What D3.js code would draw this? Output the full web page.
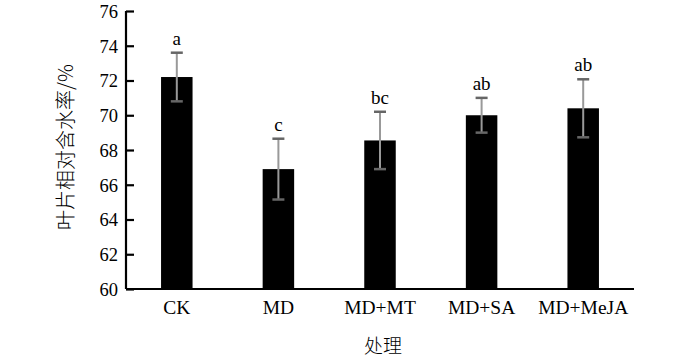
<!DOCTYPE html>
<html>
<head>
<meta charset="utf-8">
<script src="https://cdn.jsdelivr.net/npm/d3@7"></script>
<style>
  body { margin: 0; background: #fff; }
  .serif { font-family: "Liberation Serif", "DejaVu Serif", serif; }
  .cjk { font-family: "Noto Sans CJK SC", sans-serif; }
</style>
</head>
<body>
<svg id="chart" width="700" height="360"></svg>
<script>
var treatments = ["CK", "MD", "MD+MT", "MD+SA", "MD+MeJA"];
var means = [72.2, 66.9, 68.55, 70.0, 70.4];
var errors = [1.4, 1.75, 1.65, 1.0, 1.67];
var letters = ["a", "c", "bc", "ab", "ab"];
var yTicks = [60, 62, 64, 66, 68, 70, 72, 74, 76];

var svg = d3.select("#chart");
var plotLeft = 126, plotRight = 634, plotTop = 11, plotBottom = 289;

var x = d3.scaleBand()
    .domain(treatments)
    .range([plotLeft, plotRight])
    .paddingInner(0.69)
    .paddingOuter(0.345);

var y = d3.scaleLinear().domain([60, 76]).range([plotBottom, plotTop]);

var data = treatments.map(function(t, i) {
    return { name: t, mean: means[i], se: errors[i], letter: letters[i] };
});

// bars
svg.selectAll("rect.bar")
    .data(data)
    .enter()
    .append("rect")
    .attr("class", "bar")
    .attr("x", function(d){ return x(d.name) })
    .attr("y", function(d){ return y(d.mean) })
    .attr("width", x.bandwidth())
    .attr("height", function(d){ return y(60) - y(d.mean) })
    .attr("fill", "#000");

// error bars
var cx = function(d){ return x(d.name) + x.bandwidth() / 2 };
svg.selectAll("line.stem")
    .data(data)
    .enter()
    .append("line")
    .attr("x1", cx).attr("x2", cx)
    .attr("y1", function(d){ return y(d.mean + d.se) })
    .attr("y2", function(d){ return y(d.mean - d.se) })
    .attr("stroke", "#999")
    .attr("stroke-width", 2);

[1, -1].forEach(function(s) {
    svg.selectAll("line.cap" + s)
        .data(data)
        .enter()
        .append("line")
        .attr("x1", function(d){ return cx(d) - 6 })
        .attr("x2", function(d){ return cx(d) + 6 })
        .attr("y1", function(d){ return y(d.mean + s * d.se) })
        .attr("y2", function(d){ return y(d.mean + s * d.se) })
        .attr("stroke", "#666")
        .attr("stroke-width", 2.5);
});

// significance letters
svg.selectAll("text.sig")
    .data(data)
    .enter()
    .append("text")
    .attr("class", "serif")
    .attr("x", cx)
    .attr("y", function(d){ return y(d.mean + d.se) - 8 })
    .attr("text-anchor", "middle")
    .attr("font-size", 19)
    .attr("fill", "#000")
    .text(function(d){ return d.letter });

// y axis, ticks inward
var yAxis = svg.append("g")
    .attr("transform", "translate(" + plotLeft + ",0)")
    .call(d3.axisRight(y).tickValues(yTicks).tickSize(8).tickFormat(d3.format("d")));
yAxis.select(".domain").attr("d", "M0," + plotTop + "V" + plotBottom).attr("stroke-width", 2.2);
yAxis.selectAll(".tick line").attr("stroke-width", 2.2);
yAxis.selectAll(".tick text")
    .attr("class", "serif")
    .attr("x", -8)
    .attr("dy", "0.34em")
    .attr("text-anchor", "end")
    .attr("font-size", 18.5)
    .attr("fill", "#000");

// x axis
var xAxis = svg.append("g")
    .attr("transform", "translate(0," + plotBottom + ")")
    .call(d3.axisBottom(x).tickSize(0).tickPadding(11));
xAxis.select(".domain").attr("d", "M" + plotLeft + ",0H" + plotRight).attr("stroke-width", 2.2);
xAxis.selectAll(".tick text")
    .attr("class", "serif")
    .attr("font-size", 19.5)
    .attr("fill", "#000");

// titles
svg.append("text")
    .attr("class", "cjk")
    .attr("x", 383).attr("y", 353)
    .attr("text-anchor", "middle")
    .attr("font-size", 19)
    .attr("font-weight", 300)
    .text("处理");

svg.append("text")
    .attr("class", "cjk")
    .attr("transform", "translate(73,147) rotate(-90)")
    .attr("text-anchor", "middle")
    .attr("font-size", 20)
    .attr("font-weight", 300)
    .text("叶片相对含水率/%");
</script>
</body>
</html>
